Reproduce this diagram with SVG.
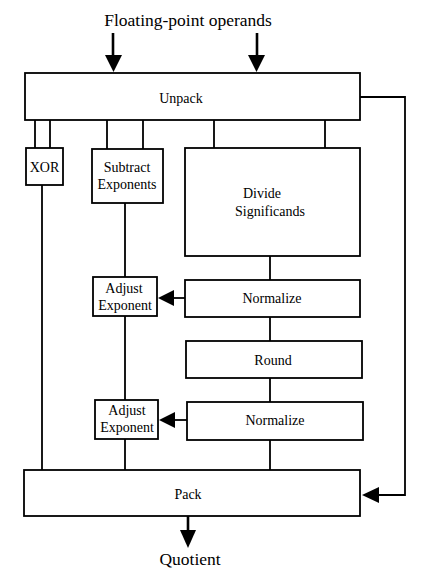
<svg xmlns="http://www.w3.org/2000/svg" width="434" height="580" viewBox="0 0 434 580">
<style>
.box{fill:#fff;stroke:#000;stroke-width:1.8}
.ln{fill:none;stroke:#000;stroke-width:1.8}
.thick{fill:none;stroke:#000;stroke-width:2.6}
text{font-family:"Liberation Serif","Times New Roman",serif;fill:#000;text-anchor:middle}
.t{font-size:14px}
.big{font-size:17.5px}
</style>
<defs>
<marker id="ah" markerWidth="8" markerHeight="8" refX="7" refY="4" orient="auto" markerUnits="userSpaceOnUse" viewBox="0 0 8 8">
<path d="M0,0 L8,4 L0,8 Z" fill="#000"/>
</marker>
</defs>
<rect width="434" height="580" fill="#fff"/>
<text class="big" x="188" y="26">Floating-point operands</text>
<text class="big" x="190" y="565">Quotient</text>
<g id="connectors">
<path class="thick" d="M113,33 V56"/>
<path d="M105,55 L122,55 L113.5,72 Z" fill="#000"/>
<path class="thick" d="M257,33 V56"/>
<path d="M248,55 L265,55 L256.5,72 Z" fill="#000"/>
<path class="ln" d="M35,120 V148 M50,120 V148"/>
<path class="ln" d="M107,120 V149 M143,120 V149"/>
<path class="ln" d="M214,120 V148 M325,120 V148"/>
<path class="ln" d="M42,185 V470"/>
<path class="ln" d="M125,203 V277 M125,316 V400 M125,439 V470"/>
<path class="ln" d="M270,256 V280 M270,317 V341 M270,378 V402 M270,440 V470"/>
<path class="ln" d="M185,298 H172"/>
<path d="M174,290 L174,306 L158,298 Z" fill="#000"/>
<path class="ln" d="M187,420 H174"/>
<path d="M175,412 L175,428 L159,420 Z" fill="#000"/>
<path class="ln" d="M360,97 H405 V495 H378"/>
<path d="M379,487 L379,503 L362,495 Z" fill="#000"/>
<path class="thick" d="M188,516 V532"/>
<path d="M180,530 L196,530 L188,548 Z" fill="#000"/>
</g>
<g id="unpack"><rect class="box" x="25" y="73" width="335" height="47"/><text class="t" x="181" y="103">Unpack</text></g>
<g id="xor"><rect class="box" x="26" y="148" width="37" height="37"/><text class="t" x="44.5" y="172">XOR</text></g>
<g id="subtract"><rect class="box" x="92" y="149" width="71" height="54"/><text class="t" x="127" y="172">Subtract</text><text class="t" x="127" y="189">Exponents</text></g>
<g id="divide"><rect class="box" x="185" y="148" width="175" height="108"/><text class="t" x="262" y="198">Divide</text><text class="t" x="270" y="216">Significands</text></g>
<g id="adjust1"><rect class="box" x="93" y="277" width="64" height="39"/><text class="t" x="124" y="293">Adjust</text><text class="t" x="125" y="310">Exponent</text></g>
<g id="normalize1"><rect class="box" x="185" y="280" width="175" height="37"/><text class="t" x="272" y="303">Normalize</text></g>
<g id="round"><rect class="box" x="186" y="341" width="176" height="37"/><text class="t" x="273" y="365">Round</text></g>
<g id="adjust2"><rect class="box" x="95" y="400" width="63" height="39"/><text class="t" x="127" y="415">Adjust</text><text class="t" x="127" y="432">Exponent</text></g>
<g id="normalize2"><rect class="box" x="187" y="402" width="176" height="38"/><text class="t" x="275" y="425">Normalize</text></g>
<g id="pack"><rect class="box" x="24" y="470" width="336" height="46"/><text class="t" x="188" y="499">Pack</text></g>
</svg>
